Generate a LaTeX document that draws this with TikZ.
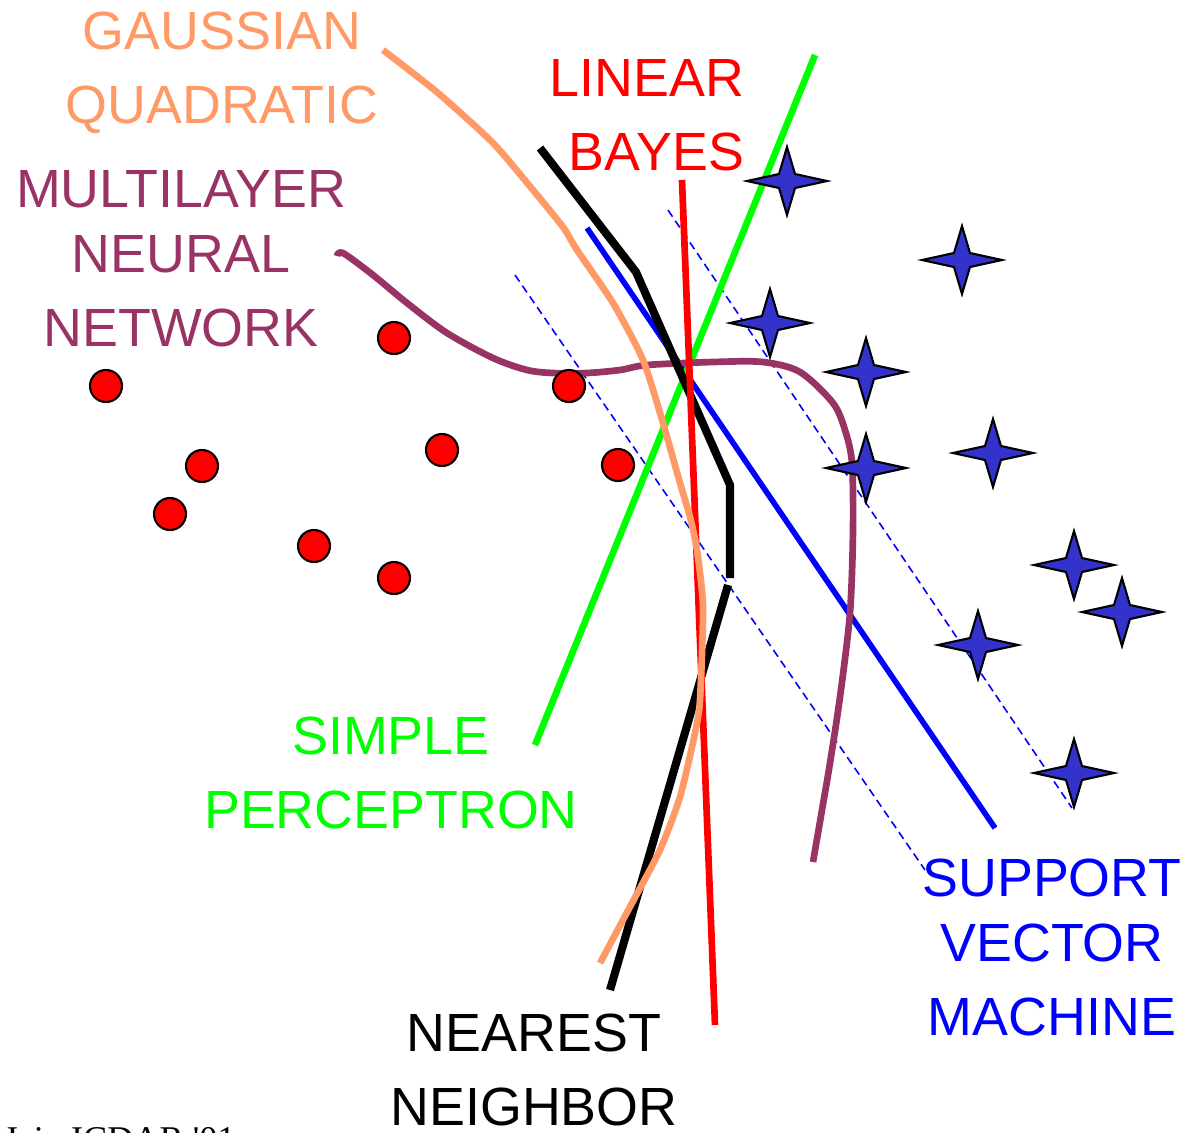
\documentclass[tikz,border=0pt]{standalone}
\usepackage{fontspec}
\setmainfont{Liberation Sans}
\newfontfamily\timesfont{Liberation Serif}
\usetikzlibrary{calc}

\definecolor{gaussc}{RGB}{255,153,102}
\definecolor{mlpc}{RGB}{153,51,102}
\definecolor{greenc}{RGB}{0,255,0}
\definecolor{starc}{RGB}{51,51,204}

\tikzset{
  lbl/.style={inner sep=0pt, font=\fontsize{15.3}{20.8}\selectfont, align=center},
  bound/.style={line width=1.9pt},
  margin/.style={blue, line width=0.45pt, dash pattern=on 2.3pt off 1.4pt},
  dot/.style={circle, draw=black, fill=red, line width=0.6pt, minimum size=0.32cm, inner sep=0pt},
  starmark/.style={draw=black, fill=starc, line width=0.6pt},
}

\begin{document}
\begin{tikzpicture}[x=0.01cm,y=-0.01cm]
\useasboundingbox (0,0) rectangle (1184,1132);

% labels (base = last line)
\node[lbl, text=gaussc, anchor=base] (gauss) at (222,123) {GAUSSIAN\\QUADRATIC};
\node[lbl, text=red, align=right, anchor=base east] (bayes) at (745,170) {LINEAR\\BAYES};
\node[lbl, text=mlpc, anchor=base] (mlp) at (181,346) {MULTILAYER\\[-2.3pt]NEURAL\\NETWORK};
\node[lbl, text=greenc, anchor=base] (perc) at (391,828) {SIMPLE\\PERCEPTRON};
\node[lbl, text=black, anchor=base] (nn) at (534,1125) {NEAREST\\NEIGHBOR};
\node[lbl, text=blue, anchor=base] (svm) at (1052,1035) {SUPPORT\\[-2.3pt]VECTOR\\MACHINE};
\node[inner sep=0pt, anchor=base west, font=\timesfont\fontsize{10.3}{12}\selectfont] (note) at (3,1151) {Jain ICDAR '01};

% svm margins
\draw[margin] (515,275) -- (925,870);
\draw[margin] (668,210) -- (1072,808);
\draw[bound, blue, line width=1.6pt] (587,228) -- (995,828);

% perceptron
\draw[bound, greenc] (535,745) -- (815,55);

% multilayer net
\draw[bound, mlpc, line join=round] plot[smooth, tension=0.5] coordinates {
  (337,256) (343,253) (373,275) (407,303) (447,333) (493,358) (527,370) (553,373)
  (587,373) (620,370) (647,365) (713,362) (763,362) (800,372) (833,403)
  (845,430) (852,463) (853,530) (850,613) (840,697) (830,763) (822,810) (813,862)};

% nearest neighbor
\draw[bound, black, line width=2.3pt] (540,148) -- (636,272) -- (730,485) -- (730,578);
\draw[bound, black, line width=2.3pt] (728,585) -- (610,990);

% linear bayes
\draw[bound, red] (682,180) -- (715,1025);

% gaussian quadratic
\draw[bound, gaussc, line join=round] plot[smooth, tension=0.4] coordinates {
  (383,50) (438,93) (493,143) (533,190) (563,227) (577,250) (613,303)
  (643,360) (663,423) (680,483) (690,517) (697,550) (703,607) (700,700)
  (695,733) (680,797) (660,850) (632,903) (600,963)};

% class 1
\foreach \i/\p in {1/{394,338}, 2/{106,386}, 3/{569,386}, 4/{442,450}, 5/{202,466},
                   6/{618,465}, 7/{170,514}, 8/{314,546}, 9/{394,578}}
  \node[dot] (c\i) at (\p) {};

% class 2
\foreach \p in {{787,181}, {962,260}, {770,323}, {866,372}, {993,453},
                {866,468}, {1074,565}, {1122,612}, {978,645}, {1074,773}}
  \filldraw[starmark, shift={(\p)}] (-40,0) -- (-8,-7) -- (0,-34) -- (8,-7)
     -- (40,0) -- (8,7) -- (0,34) -- (-8,7) -- cycle;
\end{tikzpicture}
\end{document}
